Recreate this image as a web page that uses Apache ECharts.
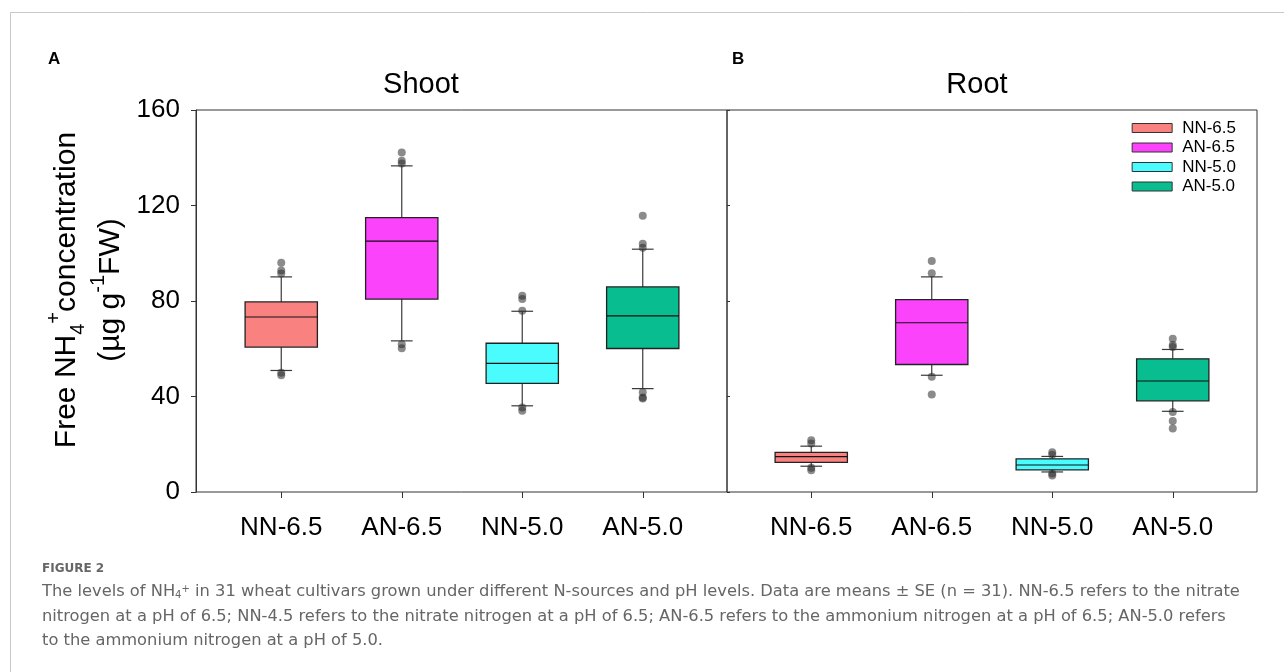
<!DOCTYPE html>
<html>
<head>
<meta charset="utf-8">
<script src="https://cdn.jsdelivr.net/npm/echarts@6/dist/echarts.min.js"></script>
<style>
  html, body { margin: 0; padding: 0; background: #fff; }
  #chart { width: 1284px; height: 672px; }
</style>
</head>
<body>
<div id="chart"></div>
<script>
// treatments, same order in both panels
const cats = ["NN-6.5", "AN-6.5", "NN-5.0", "AN-5.0"];
const colors = ["#F98281", "#FC43FC", "#4AFCFD", "#08BD8F"];

// [lower whisker, q1, median, q3, upper whisker]
const shootBox = [
  [50.9, 60.7, 73.3, 79.6, 90.1],
  [63.3, 80.8, 105.1, 114.9, 136.6],
  [36.1, 45.5, 53.9, 62.3, 75.7],
  [43.3, 60.1, 73.8, 85.9, 101.7],
];
const rootBox = [
  [10.8, 12.4, 14.8, 16.6, 19.2],
  [48.9, 53.4, 70.9, 80.6, 90.1],
  [8.4, 9.3, 11.3, 13.9, 14.9],
  [33.8, 38.2, 46.5, 55.8, 59.7],
];
// outlying points
const shootOut = [
  [96.0, 92.8, 91.5, 50.0, 48.9],
  [142.2, 138.7, 137.6, 61.9, 60.2],
  [82.2, 80.8, 75.9, 35.4, 34.0],
  [115.7, 104.0, 102.3, 41.8, 39.6, 39.2],
];
const rootOut = [
  [21.7, 20.3, 10.2, 9.1],
  [96.8, 91.6, 48.3, 40.8],
  [16.7, 15.6, 7.7, 6.9],
  [64.2, 61.6, 60.7, 33.5, 29.7, 26.6],
];

const font = "Liberation Sans, Arial, sans-serif";
const capFont = "DejaVu Sans";
const chart = echarts.init(document.getElementById("chart"));

const renderBox = (params, api) => {
  const i = api.value(0);
  const band = api.size([1, 0])[0];
  const half = band * 0.3;
  const cap = band * 0.09;
  const p = [1, 2, 3, 4, 5].map((k) => api.coord([i, api.value(k)]));
  const x = p[0][0];
  const wStyle = { stroke: "#3a3a3a", lineWidth: 1.2 };
  return {
    type: "group",
    children: [
      { type: "line", shape: { x1: x, y1: p[0][1], x2: x, y2: p[1][1] }, style: wStyle },
      { type: "line", shape: { x1: x, y1: p[3][1], x2: x, y2: p[4][1] }, style: wStyle },
      { type: "line", shape: { x1: x - cap, y1: p[0][1], x2: x + cap, y2: p[0][1] }, style: wStyle },
      { type: "line", shape: { x1: x - cap, y1: p[4][1], x2: x + cap, y2: p[4][1] }, style: wStyle },
      {
        type: "rect",
        shape: { x: x - half, y: p[3][1], width: half * 2, height: p[1][1] - p[3][1] },
        style: { fill: api.visual("color"), stroke: "#222", lineWidth: 1.3 },
      },
      { type: "line", shape: { x1: x - half, y1: p[2][1], x2: x + half, y2: p[2][1] }, style: { stroke: "#111", lineWidth: 1.2 } },
    ],
  };
};

const panelSeries = (boxes, outs, axisIdx) => {
  let list = boxes.map((b, i) => ({
    type: "custom",
    name: cats[i],
    xAxisIndex: axisIdx,
    yAxisIndex: axisIdx,
    renderItem: renderBox,
    itemStyle: { color: colors[i] },
    encode: { x: 0, y: [1, 2, 3, 4, 5] },
    data: [[i].concat(b)],
    z: 2,
  }));
  let pts = [];
  outs.forEach((vals, i) => vals.forEach((v) => pts.push([i, v])));
  list.push({
    type: "scatter",
    name: "outliers",
    xAxisIndex: axisIdx,
    yAxisIndex: axisIdx,
    symbolSize: 8,
    itemStyle: { color: "rgba(40,40,40,0.68)" },
    data: pts,
    z: 3,
  });
  return list;
};

const frameY = (labels) => ({
  type: "value",
  gridIndex: labels ? 0 : 2,
  min: 0,
  max: 160,
  interval: 40,
  axisLine: { show: labels, lineStyle: { color: "#333" } },
  axisTick: { show: true, inside: !labels, length: labels ? 5 : 3, lineStyle: { color: "#333" } },
  axisLabel: { show: labels, margin: 16, fontSize: 26, color: "#000", fontFamily: font },
  splitLine: { show: false },
});

const dataX = (g) => ({
  type: "category",
  gridIndex: g,
  data: cats,
  axisLine: { show: false },
  axisTick: { show: true, alignWithLabel: true, length: 6, lineStyle: { color: "#333" } },
  axisLabel: { margin: 23, fontSize: 26, color: "#000", fontFamily: font },
});

const captionLines = [
  "The levels of NH{sb|4}{sp|+} in 31 wheat cultivars grown under different N-sources and pH levels. Data are means ± SE (n = 31). NN-6.5 refers to the nitrate",
  "nitrogen at a pH of 6.5; NN-4.5 refers to the nitrate nitrogen at a pH of 6.5; AN-6.5 refers to the ammonium nitrogen at a pH of 6.5; AN-5.0 refers",
  "to the ammonium nitrogen at a pH of 5.0.",
];
const capStyle = { fontFamily: capFont, fontWeight: "normal", fontSize: 16.3, fill: "#666", verticalAlign: "middle" };

chart.setOption({
  animation: false,
  title: [
    { text: "A", left: 48, top: 51, padding: 0, textStyle: { fontSize: 17, fontWeight: "bold", color: "#000", fontFamily: font } },
    { text: "B", left: 732, top: 51, padding: 0, textStyle: { fontSize: 17, fontWeight: "bold", color: "#000", fontFamily: font } },
    { text: "Shoot", left: 421, top: 70, padding: 0, textAlign: "center", textStyle: { fontSize: 29, fontWeight: "normal", color: "#000", fontFamily: font } },
    { text: "Root", left: 977, top: 70, padding: 0, textAlign: "center", textStyle: { fontSize: 29, fontWeight: "normal", color: "#000", fontFamily: font } },
  ],
  legend: {
    data: cats,
    orient: "vertical",
    right: 48,
    top: 119.5,
    padding: 0,
    icon: "rect",
    itemWidth: 40,
    itemHeight: 9,
    itemGap: 2.5,
    itemStyle: { borderColor: "#333", borderWidth: 1 },
    textStyle: { fontSize: 17, lineHeight: 17, color: "#000", fontFamily: font, padding: [0, 0, 0, 5] },
  },
  grid: [
    { left: 196, top: 110, width: 531, height: 382, show: true, borderColor: "#333", borderWidth: 1 },
    { left: 221, top: 110, width: 482, height: 382 },
    { left: 727, top: 110, width: 530, height: 382, show: true, borderColor: "#333", borderWidth: 1 },
    { left: 751, top: 110, width: 482, height: 382 },
  ],
  xAxis: [
    { type: "value", gridIndex: 0, show: false },
    dataX(1),
    { type: "value", gridIndex: 2, show: false },
    dataX(3),
  ],
  yAxis: [
    Object.assign(frameY(true), {
      name: "{a|Free NH}{sb|4}{sp|+}{a|concentration}\n{a|(µg g}{sp|-1}{a|FW)}",
      nameLocation: "middle",
      nameRotate: 90,
      nameGap: 57,
      nameTextStyle: {
        fontFamily: font,
        color: "#000",
        lineHeight: 44,
        padding: [0, 0, 0, 22],
        rich: {
          a: { fontSize: 30, fontFamily: font, color: "#000", lineHeight: 44 },
          sb: { fontSize: 20, fontFamily: font, color: "#000", verticalAlign: "bottom", lineHeight: 34 },
          sp: { fontSize: 20, fontFamily: font, color: "#000", verticalAlign: "top", lineHeight: 34 },
        },
      },
    }),
    { type: "value", gridIndex: 1, min: 0, max: 160, show: false },
    frameY(false),
    { type: "value", gridIndex: 3, min: 0, max: 160, show: false },
  ],
  series: panelSeries(shootBox, shootOut, 1).concat(panelSeries(rootBox, rootOut, 3)),
  graphic: [
    {
      type: "rect",
      shape: { x: 10.5, y: 12.5, width: 1300, height: 700 },
      style: { fill: null, stroke: "#c8c8c8", lineWidth: 1 },
      silent: true,
    },
    {
      type: "text",
      x: 42,
      y: 569,
      style: { text: "FIGURE 2", fontFamily: capFont, fontSize: 12, fill: "#666", fontWeight: "bold", verticalAlign: "middle" },
    },
  ].concat(
    captionLines.map((t, k) => ({
      type: "text",
      x: 42,
      y: 592 + k * 24.5,
      style: Object.assign({}, capStyle, {
        text: t,
        rich: {
          sb: { fontFamily: capFont, fontSize: 10, fill: "#666", verticalAlign: "bottom" },
          sp: { fontFamily: capFont, fontSize: 10, fill: "#666", verticalAlign: "top" },
        },
      }),
    }))
  ),
});
</script>
</body>
</html>
